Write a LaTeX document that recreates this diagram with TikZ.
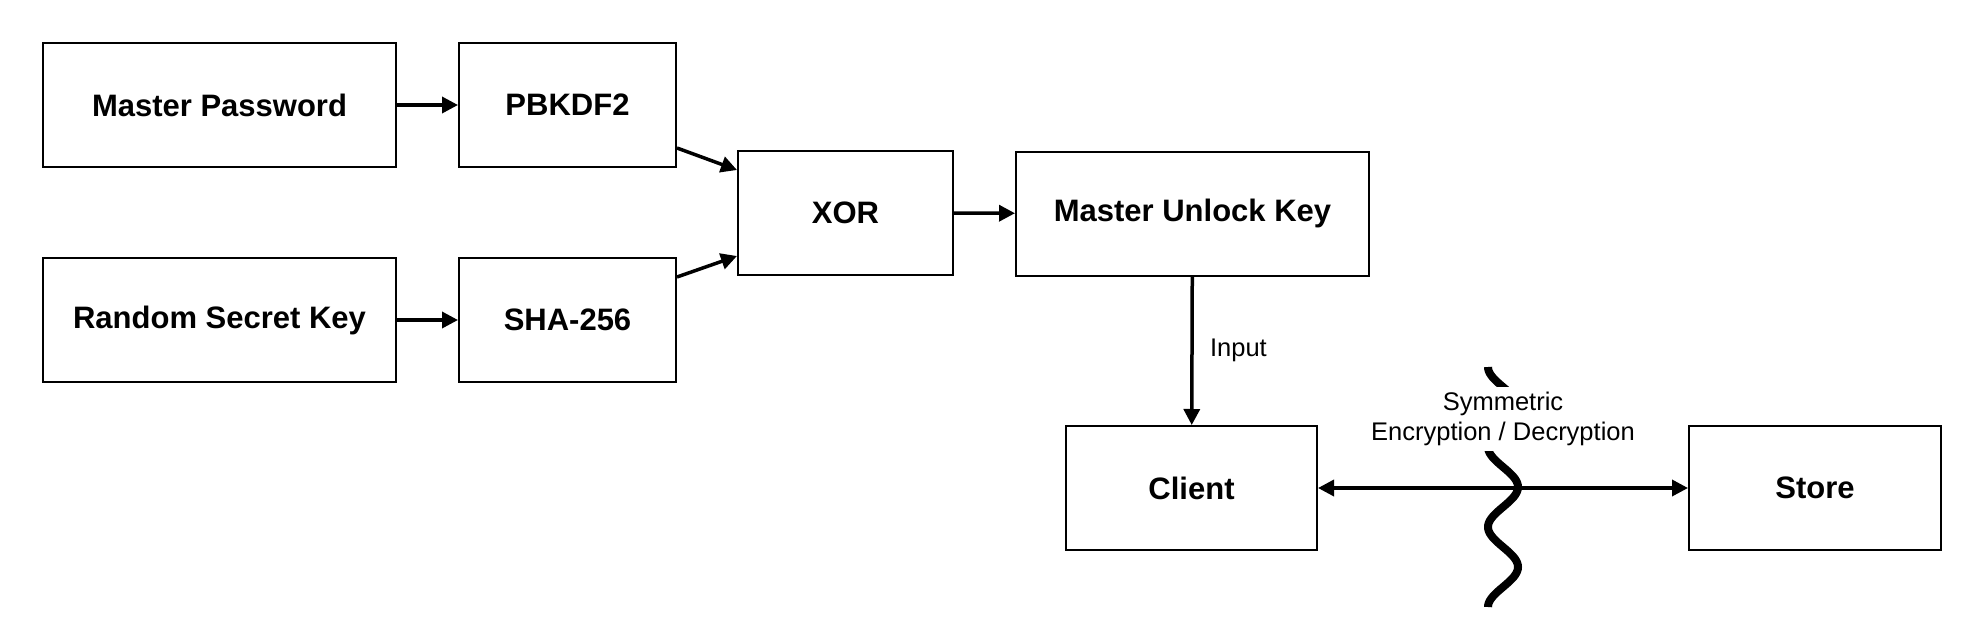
\documentclass[tikz,border=0pt]{standalone}
\usepackage{fontspec}
\setmainfont{Liberation Sans}
\usetikzlibrary{arrows.meta}

\tikzset{
	box/.style={draw=black, line width=2pt, minimum width=#1, minimum height=124pt, inner sep=0pt, font=\fontsize{31}{36}\selectfont\bfseries},
	box/.default=353pt,
	conn/.style={draw=black, line width=3.5pt, -{Triangle[length=16pt,width=16pt]}},
	biconn/.style={draw=black, line width=3.5pt, {Triangle[length=16pt,width=16pt]}-{Triangle[length=16pt,width=16pt]}},
	edgetext/.style={font=\fontsize{25.5}{30}\selectfont, align=center},
	wave/.style={draw=black, line width=8pt}
}

\begin{document}
\begin{tikzpicture}[x=1pt, y=-1pt]
			\useasboundingbox (0,0) rectangle (1984,640);

			\node[box] (masterpw) at (219.5,105) {Master Password};
			\node[box=217pt] (pbkdf) at (567.5,105) {PBKDF2};
			\node[box] (secretkey) at (219.5,320) {Random Secret Key};
			\node[box=217pt] (sha) at (567.5,320) {SHA-256};
			\node[box=215pt] (xor) at (845.5,213) {XOR};
			\node[box] (unlockkey) at (1192.5,213.5) {Master Unlock Key};
			\node[box=251pt] (client) at (1191.5,488) {Client};
			\node[box=252pt] (store) at (1815,488) {Store};

			\draw[conn] (masterpw) -- (pbkdf);
			\draw[conn] (secretkey) -- (sha);
			\draw[conn] ([yshift=20pt]pbkdf.south east) -- ([yshift=-20pt]xor.north west);
			\draw[conn] ([yshift=-20pt]sha.north east) -- ([yshift=20pt]xor.south west);
			\draw[conn] (xor) -- (unlockkey);
			\draw[conn] (unlockkey) -- node[edgetext, right=13pt] {Input} (client);

			\draw[wave] plot[domain=367:607, samples=121, smooth] ({1503-15*cos(4.5*(\x-367))}, \x);
			\draw[biconn] (client) -- node[edgetext, midway, above=35pt, fill=white, inner sep=5pt] {Symmetric\\Encryption / Decryption} (store);
		\end{tikzpicture}
\end{document}
